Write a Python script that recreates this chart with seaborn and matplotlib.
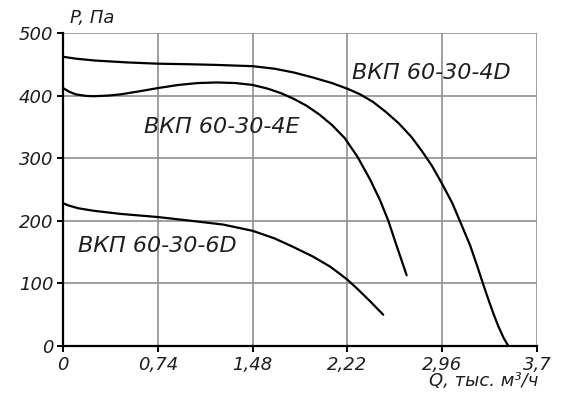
import matplotlib
matplotlib.use('Agg')

import pandas as pd
import matplotlib.pyplot as plt
import seaborn as sns

# --- Data ---
q_4d = [0, 0.10, 0.25, 0.50, 0.74, 1.00, 1.20, 1.48, 1.65, 1.80, 1.95, 2.10, 2.22, 2.32, 2.42, 2.52, 2.62,
        2.72, 2.80, 2.88, 2.96, 3.04, 3.10, 3.18, 3.24, 3.28, 3.32, 3.36, 3.40, 3.44, 3.477]
p_4d = [462, 459, 456, 453, 451, 450, 449, 447, 443, 437, 429, 420, 411, 402, 390, 374, 356,
        334, 312, 288, 259, 228, 199, 160, 124, 99, 75, 52, 31, 13, 0]

q_4e = [0, 0.05, 0.10, 0.18, 0.24, 0.35, 0.45, 0.60, 0.74, 0.90, 1.05, 1.20, 1.35, 1.48, 1.60, 1.70,
        1.80, 1.90, 2.00, 2.10, 2.20, 2.30, 2.40, 2.475, 2.54, 2.60, 2.683]
p_4e = [412, 406, 402, 399.5, 399, 400, 402, 407, 412, 417, 420, 421, 420, 417, 411, 404,
        395, 384, 370, 353, 332, 302, 265, 233, 200, 163, 113]

q_6d = [0, 0.05, 0.12, 0.24, 0.45, 0.74, 1.00, 1.25, 1.48, 1.65, 1.80, 1.95, 2.084, 2.15, 2.22, 2.30, 2.40, 2.50]
p_6d = [228, 224, 220, 216, 211, 206, 200, 194, 184, 172, 158, 143, 127, 117, 106, 91, 71, 50]

series_names = ['ВКП 60-30-4D', 'ВКП 60-30-4E', 'ВКП 60-30-6D']
x_ticks = [0, 0.74, 1.48, 2.22, 2.96, 3.7]
x_tick_labels = ['0', '0,74', '1,48', '2,22', '2,96', '3,7']
y_ticks = [0, 100, 200, 300, 400, 500]

df = pd.concat([
    pd.DataFrame({'Q': q_4d, 'P': p_4d, 'model': series_names[0]}),
    pd.DataFrame({'Q': q_4e, 'P': p_4e, 'model': series_names[1]}),
    pd.DataFrame({'Q': q_6d, 'P': p_6d, 'model': series_names[2]}),
])

# --- Style ---
sns.set_style('whitegrid')
plt.rcParams['font.family'] = ['DejaVu Sans']

GRID_COLOR = '#8f8f8f'
TEXT_COLOR = '#1e1e1e'

fig = plt.figure(figsize=(5.73, 4.0), dpi=100)
ax = fig.add_axes([0.110, 0.135, 0.827, 0.7825])

sns.lineplot(data=df, x='Q', y='P', hue='model', units='model', estimator=None,
             sort=False, palette=['black'] * 3, linewidth=1.6, legend=False, ax=ax)

ax.set_xlim(0, 3.7)
ax.set_ylim(0, 500)
ax.set_xticks(x_ticks)
ax.set_xticklabels(x_tick_labels)
ax.set_yticks(y_ticks)
ax.set_xlabel('')
ax.set_ylabel('')

ax.grid(True, color=GRID_COLOR, linewidth=1.2)
for side in ['top', 'right']:
    ax.spines[side].set_visible(False)
for side in ['left', 'bottom']:
    ax.spines[side].set_color('black')
    ax.spines[side].set_linewidth(1.6)

ax.tick_params(axis='both', which='major', direction='out', length=4, width=1.4,
               color='black', labelsize=13, labelcolor=TEXT_COLOR, pad=3,
               left=True, bottom=True)
for lbl in ax.get_xticklabels() + ax.get_yticklabels():
    lbl.set_fontstyle('italic')

# curve names
ax.text(2.256, 436, series_names[0], fontsize=16, fontstyle='italic', color=TEXT_COLOR, va='center')
ax.text(0.63, 350, series_names[1], fontsize=16, fontstyle='italic', color=TEXT_COLOR, va='center')
ax.text(0.117, 160, series_names[2], fontsize=16, fontstyle='italic', color=TEXT_COLOR, va='center')

# axis titles
ax.text(0.015, 1.048, 'P, Па', transform=ax.transAxes, fontsize=13, fontstyle='italic',
        color=TEXT_COLOR, ha='left', va='center')
ax.text(1.003, -0.112, 'Q, тыс. м³/ч', transform=ax.transAxes, fontsize=13, fontstyle='italic',
        color=TEXT_COLOR, ha='right', va='center')

plt.savefig('out.png', dpi=100)
plt.close()
